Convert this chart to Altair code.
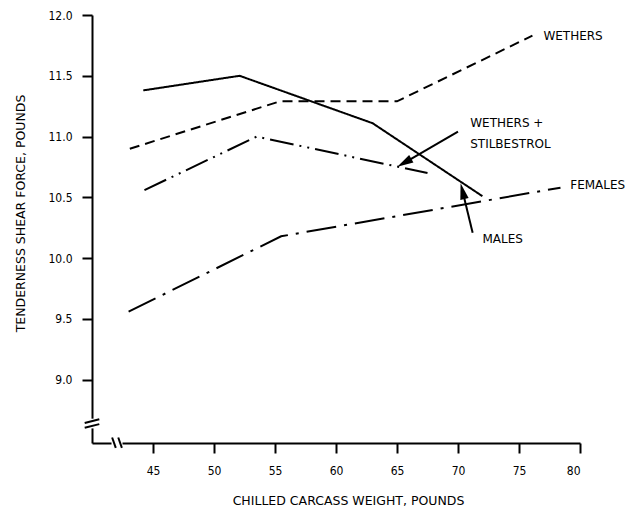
import altair as alt
import pandas as pd

# ---- data ----
males_x = [44.2, 52.1, 63.0, 72.0]
males_y = [11.38, 11.50, 11.11, 10.51]
wethers_x = [43.1, 55.4, 65.0, 76.1]
wethers_y = [10.90, 11.29, 11.29, 11.83]
ws_x = [44.3, 53.5, 67.5]
ws_y = [10.56, 11.00, 10.70]
females_x = [43.0, 55.5, 78.4]
females_y = [9.56, 10.18, 10.58]

series_names = ["MALES", "WETHERS", "WETHERS + STILBESTROL", "FEMALES"]
series_dash = [[1, 0], [10, 6], [24, 6, 2, 6, 2, 6], [30, 8, 3, 8]]

x_ticks = [45, 50, 55, 60, 65, 70, 75, 80]
y_ticks = [9.0, 9.5, 10.0, 10.5, 11.0, 11.5, 12.0]

label_text = ["WETHERS", "WETHERS +", "STILBESTROL", "FEMALES", "MALES"]
label_x = [77.0, 71.0, 71.0, 79.2, 72.0]
label_y = [11.83, 11.11, 10.94, 10.60, 10.16]

arrow_tail_x = [70.0, 71.2]
arrow_tail_y = [11.04, 10.21]
arrow_head_x = [65.7, 70.4]
arrow_head_y = [10.79, 10.54]
arrow_angle = [240, 346]

# axis break marks (data coordinates)
ybreak_gap = [8.60, 8.68]
xbreak_gap = [41.6, 42.5]

FONT = "DejaVu Sans"
NARROW = "DejaVu Sans Condensed, Liberation Sans Narrow, Liberation Sans"

rows = []
for name, xs, ys in zip(series_names,
                        [males_x, wethers_x, ws_x, females_x],
                        [males_y, wethers_y, ws_y, females_y]):
    for i, (a, b) in enumerate(zip(xs, ys)):
        rows.append({"series": name, "w": a, "f": b, "o": i})
df = pd.DataFrame(rows)

xs = alt.Scale(domain=[40, 80], nice=False, zero=False)
ys = alt.Scale(domain=[8.48, 12.0], nice=False, zero=False)

lines = alt.Chart(df).mark_line(color="black", strokeWidth=2).encode(
    x=alt.X("w:Q", scale=xs,
            axis=alt.Axis(values=x_ticks, title="CHILLED CARCASS WEIGHT, POUNDS",
                          titleX=256, titlePadding=18, labelPadding=12)),
    y=alt.Y("f:Q", scale=ys,
            axis=alt.Axis(values=y_ticks, format=".1f",
                          title="TENDERNESS SHEAR FORCE, POUNDS",
                          titleY=198, titlePadding=20, labelPadding=10)),
    strokeDash=alt.StrokeDash("series:N",
                              scale=alt.Scale(domain=series_names, range=series_dash),
                              legend=None),
    order="o:Q",
)

lab_df = pd.DataFrame({"t": label_text, "x": label_x, "y": label_y})
labels = alt.Chart(lab_df).mark_text(align="left", baseline="middle", font=FONT,
                                     fontSize=12, color="black").encode(
    x=alt.X("x:Q", scale=xs), y=alt.Y("y:Q", scale=ys), text="t:N")

arr_df = pd.DataFrame({"x1": arrow_tail_x, "y1": arrow_tail_y,
                       "x2": arrow_head_x, "y2": arrow_head_y, "a": arrow_angle})
arrow_lines = alt.Chart(arr_df).mark_rule(color="black", strokeWidth=2).encode(
    x=alt.X("x1:Q", scale=xs), y=alt.Y("y1:Q", scale=ys), x2="x2:Q", y2="y2:Q")
arrow_heads = alt.Chart(arr_df).mark_point(
    shape="M0,-1L0.45,0.7L-0.45,0.7Z", filled=True, color="black", opacity=1, size=360
).encode(x=alt.X("x2:Q", scale=xs), y=alt.Y("y2:Q", scale=ys), angle=alt.Angle("a:Q", scale=None))

# axis breaks
gap_df = pd.DataFrame({"x": [40, xbreak_gap[0]], "x2": [40, xbreak_gap[1]],
                       "y": [ybreak_gap[0], 8.48], "y2": [ybreak_gap[1], 8.48]})
gaps = alt.Chart(gap_df).mark_rule(color="white", strokeWidth=5).encode(
    x=alt.X("x:Q", scale=xs), x2="x2:Q", y=alt.Y("y:Q", scale=ys), y2="y2:Q")

sl_df = pd.DataFrame({
    "x": [39.4, 39.4, 41.65, 42.15],
    "x2": [40.6, 40.6, 41.95, 42.45],
    "y": [8.605, 8.645, 8.525, 8.525],
    "y2": [8.635, 8.675, 8.44, 8.44],
})
slashes = alt.Chart(sl_df).mark_rule(color="black", strokeWidth=2).encode(
    x=alt.X("x:Q", scale=xs), x2="x2:Q", y=alt.Y("y:Q", scale=ys), y2="y2:Q")

chart = alt.layer(lines, gaps, slashes, arrow_lines, arrow_heads, labels).properties(
    width=488, height=428,
    padding={"left": 84, "top": 7, "right": 50, "bottom": 66},
    autosize=alt.AutoSizeParams(type="none"),
    background="white",
).configure_view(stroke=None).configure_axis(
    grid=False, domainColor="black", domainWidth=2, tickColor="black", tickWidth=2,
    tickSize=10, labelFont=NARROW, labelFontSize=12, labelColor="black",
    titleFont=FONT, titleFontSize=12.5, titleFontWeight="normal", titleColor="black",
)

chart.save("out.html", embed_options={"renderer": "svg", "actions": False})
